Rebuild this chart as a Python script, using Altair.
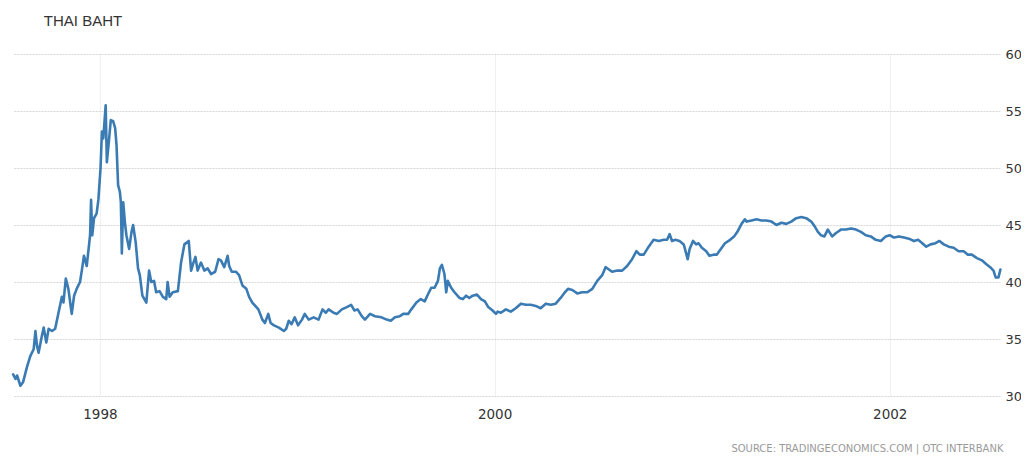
import altair as alt
import pandas as pd

# Decimal-year positions and THB per USD values
years = [
    1997.560, 1997.572, 1997.580, 1997.597, 1997.610, 1997.631, 1997.647, 1997.664, 1997.673, 1997.681,
    1997.689, 1997.706, 1997.715, 1997.728, 1997.740, 1997.757, 1997.773, 1997.790, 1997.807, 1997.815,
    1997.827, 1997.840, 1997.857, 1997.869, 1997.882, 1997.899, 1997.908, 1997.919, 1997.933, 1997.950,
    1997.955, 1997.961, 1997.970, 1997.983, 1997.992, 1998.003, 1998.010, 1998.017, 1998.022, 1998.029,
    1998.035, 1998.045, 1998.055, 1998.067, 1998.077, 1998.084, 1998.092, 1998.101, 1998.106, 1998.111,
    1998.118, 1998.126, 1998.134, 1998.148, 1998.160, 1998.168, 1998.181, 1998.193, 1998.202, 1998.215,
    1998.235, 1998.249, 1998.260, 1998.274, 1998.285, 1998.302, 1998.319, 1998.336, 1998.343, 1998.353,
    1998.369, 1998.395, 1998.411, 1998.428, 1998.450, 1998.462, 1998.474, 1998.484, 1998.495, 1998.512,
    1998.529, 1998.546, 1998.563, 1998.584, 1998.601, 1998.613, 1998.630, 1998.647, 1998.655, 1998.668,
    1998.689, 1998.705, 1998.722, 1998.742, 1998.756, 1998.772, 1998.803,
    1998.823, 1998.836, 1998.853, 1998.865, 1998.882, 1998.907, 1998.932, 1998.944, 1998.957, 1998.971,
    1998.987, 1999.004, 1999.024, 1999.038, 1999.058, 1999.083, 1999.108, 1999.128, 1999.145, 1999.159,
    1999.184, 1999.201, 1999.226, 1999.251, 1999.273, 1999.290, 1999.306, 1999.327, 1999.343, 1999.369,
    1999.394, 1999.427, 1999.453, 1999.474, 1999.495, 1999.520, 1999.537, 1999.562, 1999.578, 1999.604,
    1999.626, 1999.646, 1999.662, 1999.679, 1999.696, 1999.713, 1999.723, 1999.733, 1999.746, 1999.755,
    1999.763, 1999.780, 1999.797, 1999.822, 1999.839, 1999.856, 1999.872, 1999.889, 1999.911, 1999.931,
    1999.951, 1999.968, 1999.990, 2000.007,
    2000.015, 2000.032, 2000.057, 2000.082, 2000.107, 2000.133, 2000.158, 2000.183, 2000.208, 2000.233,
    2000.259, 2000.284, 2000.309, 2000.334, 2000.351, 2000.371, 2000.393, 2000.418, 2000.443, 2000.469,
    2000.494, 2000.519, 2000.544, 2000.561, 2000.578, 2000.594, 2000.620, 2000.645, 2000.670, 2000.695,
    2000.717, 2000.734, 2000.754, 2000.779, 2000.804, 2000.830, 2000.855, 2000.872, 2000.885, 2000.897,
    2000.914, 2000.935, 2000.956, 2000.967, 2000.976, 2000.986, 2001.003, 2001.019, 2001.031, 2001.048,
    2001.070, 2001.086, 2001.107, 2001.123, 2001.144, 2001.165, 2001.191, 2001.211, 2001.228, 2001.249,
    2001.266,
    2001.275, 2001.300, 2001.325, 2001.350, 2001.375, 2001.401, 2001.426, 2001.451, 2001.476, 2001.501,
    2001.526, 2001.552, 2001.577, 2001.602, 2001.619, 2001.636, 2001.652, 2001.669, 2001.686, 2001.708,
    2001.728, 2001.753, 2001.778, 2001.804, 2001.829, 2001.854, 2001.879, 2001.904, 2001.929, 2001.955,
    2001.980, 2002.000, 2002.022, 2002.047, 2002.072, 2002.097, 2002.123, 2002.144, 2002.165, 2002.185,
    2002.207, 2002.232, 2002.252, 2002.274, 2002.299, 2002.324, 2002.349, 2002.375, 2002.396, 2002.416,
    2002.442, 2002.467, 2002.487, 2002.509, 2002.526, 2002.537, 2002.551, 2002.561,
]

values = [
    31.9, 31.5, 31.8, 30.9, 31.2, 32.6, 33.5, 34.1, 35.7, 34.4,
    33.8, 35.3, 36.0, 34.7, 35.9, 35.7, 35.9, 37.3, 38.7, 38.2,
    40.3, 39.4, 37.2, 38.8, 39.4, 40.0, 41.0, 42.3, 41.4, 44.1,
    47.2, 44.1, 45.6, 46.0, 47.2, 50.0, 53.2, 52.6, 53.8, 55.5,
    50.5, 52.3, 54.2, 54.1, 53.5, 52.0, 48.5, 47.9, 47.0, 42.5,
    47.0, 45.3, 44.1, 42.9, 44.4, 45.0, 43.5, 41.2, 40.6, 38.8,
    38.2, 41.0, 40.0, 40.1, 39.1, 39.2, 38.7, 38.5, 40.0, 38.7,
    39.1, 39.2, 41.7, 43.3, 43.6, 41.0, 41.7, 42.2, 41.0, 41.7,
    41.0, 41.2, 40.7, 40.9, 42.0, 41.9, 41.3, 42.3, 41.4, 40.9,
    40.9, 40.6, 39.7, 39.4, 38.7, 38.2, 37.6,
    36.7, 36.4, 37.2, 36.4, 36.2, 36.0, 35.7, 35.9, 36.6, 36.3,
    36.9, 36.2, 36.7, 37.2, 36.7, 36.9, 36.7, 37.6, 37.3, 37.6,
    37.3, 37.2, 37.6, 37.8, 38.0, 37.5, 37.6, 37.0, 36.7, 37.2,
    37.0, 36.9, 36.7, 36.6, 36.9, 37.0, 37.2, 37.2, 37.6, 38.2,
    38.5, 38.3, 38.9, 39.5, 39.5, 40.1, 41.2, 41.5, 40.7, 39.1,
    40.1, 39.5, 39.1, 38.6, 38.5, 38.8, 38.6, 38.8, 38.9, 38.5,
    38.3, 37.8, 37.5, 37.2,
    37.4, 37.3, 37.6, 37.4, 37.7, 38.1, 38.0, 38.0, 37.9, 37.7,
    38.1, 38.0, 38.1, 38.6, 39.0, 39.4, 39.3, 39.0, 39.1, 39.1,
    39.4, 40.1, 40.6, 41.3, 41.1, 40.9, 41.0, 41.0, 41.4, 42.0,
    42.7, 42.4, 42.4, 43.1, 43.7, 43.6, 43.7, 43.7, 44.2, 43.6,
    43.7, 43.6, 43.3, 42.6, 42.0, 42.9, 43.6, 43.3, 43.4, 43.0,
    42.7, 42.3, 42.4, 42.4, 42.9, 43.4, 43.7, 44.0, 44.4, 45.1,
    45.5,
    45.3, 45.4, 45.5, 45.4, 45.4, 45.3, 45.0, 45.2, 45.1, 45.3,
    45.6, 45.7, 45.6, 45.3, 44.9, 44.4, 44.1, 44.0, 44.6, 44.0,
    44.3, 44.6, 44.6, 44.7, 44.6, 44.4, 44.1, 44.0, 43.7, 43.6,
    44.0, 44.1, 43.9, 44.0, 43.9, 43.8, 43.6, 43.7, 43.4, 43.1,
    43.3, 43.4, 43.6, 43.3, 43.1, 43.0, 42.7, 42.7, 42.4, 42.4,
    42.1, 41.9, 41.6, 41.3, 41.0, 40.4, 40.4, 41.1,
]

y_ticks = [30, 35, 40, 45, 50, 55, 60]
x_tick_years = [1998, 2000, 2002]
title_text = "THAI BAHT"
source_text = "SOURCE: TRADINGECONOMICS.COM | OTC INTERBANK"


def to_date(t):
    yr = int(t)
    start = pd.Timestamp(yr, 1, 1)
    end = pd.Timestamp(yr + 1, 1, 1)
    return start + (end - start) * (t - yr)


df = pd.DataFrame({"date": [to_date(t) for t in years], "value": values})

d0 = to_date(1997.567)
d1 = to_date(2002.561)
x_domain = [alt.DateTime(year=d.year, month=d.month, date=d.day) for d in (d0, d1)]
x_vals = [alt.DateTime(year=y, month=1, date=1) for y in x_tick_years]

W, H = 986, 342

chart = alt.Chart(df).mark_line(
    color="#3b7bb4", strokeWidth=2.6, strokeJoin="round", strokeCap="round"
).encode(
    x=alt.X(
        "date:T",
        scale=alt.Scale(domain=x_domain),
        axis=alt.Axis(
            values=x_vals, format="%Y", grid=True, gridColor="#e2e2e2", gridDash=[1, 1],
            gridWidth=1, ticks=False, domain=False, labelFont="DejaVu Sans",
            labelFontSize=13.5, labelColor="#333333", labelPadding=11,
            title=source_text, titleFont="DejaVu Sans", titleFontSize=10,
            titleFontWeight="normal", titleColor="#9a9a9a", titleAnchor="end",
            titleAlign="right", titleX=W + 3, titleY=52, titleBaseline="middle",
        ),
    ),
    y=alt.Y(
        "value:Q",
        scale=alt.Scale(domain=[30, 60], nice=False, zero=False),
        axis=alt.Axis(
            orient="right", values=y_ticks, grid=True, gridColor="#d6d6d6",
            gridDash=[2, 1], gridWidth=1, ticks=False, domain=False,
            labelFont="DejaVu Sans", labelFontSize=13, labelColor="#333333",
            labelPadding=5, title=None,
        ),
    ),
).properties(
    width=W,
    height=H,
    title=alt.TitleParams(
        title_text, anchor="start", dx=32, fontSize=15, font="Liberation Sans",
        fontWeight="normal", color="#333333", offset=19,
    ),
    autosize=alt.AutoSizeParams(type="none"),
    padding={"left": 6, "top": 46, "right": 21, "bottom": 60},
    background="white",
).configure_view(stroke=None)

chart.save("out.html", embed_options={"renderer": "svg", "actions": False})
